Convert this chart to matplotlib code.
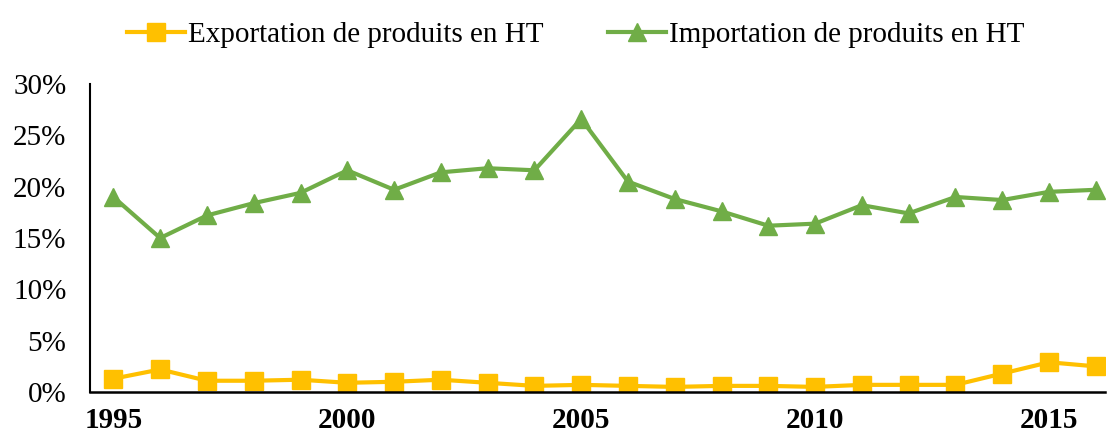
import numpy as np
import matplotlib.pyplot as plt
from matplotlib.ticker import PercentFormatter

# data to plot
years = list(range(1995, 2017))
export_ht = [1.3, 2.2, 1.1, 1.1, 1.2, 0.9, 1.0, 1.2, 0.9, 0.6, 0.7,
             0.6, 0.5, 0.6, 0.6, 0.5, 0.7, 0.7, 0.7, 1.8, 2.9, 2.5]
import_ht = [19.0, 15.0, 17.2, 18.4, 19.4, 21.6, 19.7, 21.4, 21.8, 21.6, 26.6,
             20.5, 18.8, 17.6, 16.2, 16.4, 18.2, 17.4, 19.0, 18.7, 19.5, 19.7]
xticks = [1995, 2000, 2005, 2010, 2015]

plt.rcParams['font.family'] = ['Liberation Serif', 'DejaVu Serif']

fig = plt.figure(figsize=(11.07, 4.4), dpi=100)
ax = fig.add_axes([0.0813, 0.109, 0.917, 0.7])

ax.plot(years, export_ht, color='#FFC000', linewidth=3, marker='s',
        markersize=13, label='Exportation de produits en HT')
ax.plot(years, import_ht, color='#70AD47', linewidth=3, marker='^',
        markersize=13, label='Importation de produits en HT')

ax.set_ylim(0, 30)
ax.set_xlim(1994.5, 2016.2)
ax.set_yticks(np.arange(0, 31, 5))
ax.yaxis.set_major_formatter(PercentFormatter(decimals=0))
ax.set_xticks(xticks)
ax.tick_params(axis='y', length=0, labelsize=21, pad=17)
ax.tick_params(axis='x', length=0, labelsize=21, pad=11)
for lab in ax.get_xticklabels():
    lab.set_fontweight('bold')

for s in ['top', 'right']:
    ax.spines[s].set_visible(False)
ax.spines['left'].set_linewidth(1.5)
ax.spines['bottom'].set_linewidth(1.8)

fig.legend(loc='upper center', bbox_to_anchor=(0.52, 1.01), ncol=2,
           frameon=False, fontsize=21, handlelength=2.0, handletextpad=0.1,
           columnspacing=2.2)

plt.savefig('out.png', dpi=100)
